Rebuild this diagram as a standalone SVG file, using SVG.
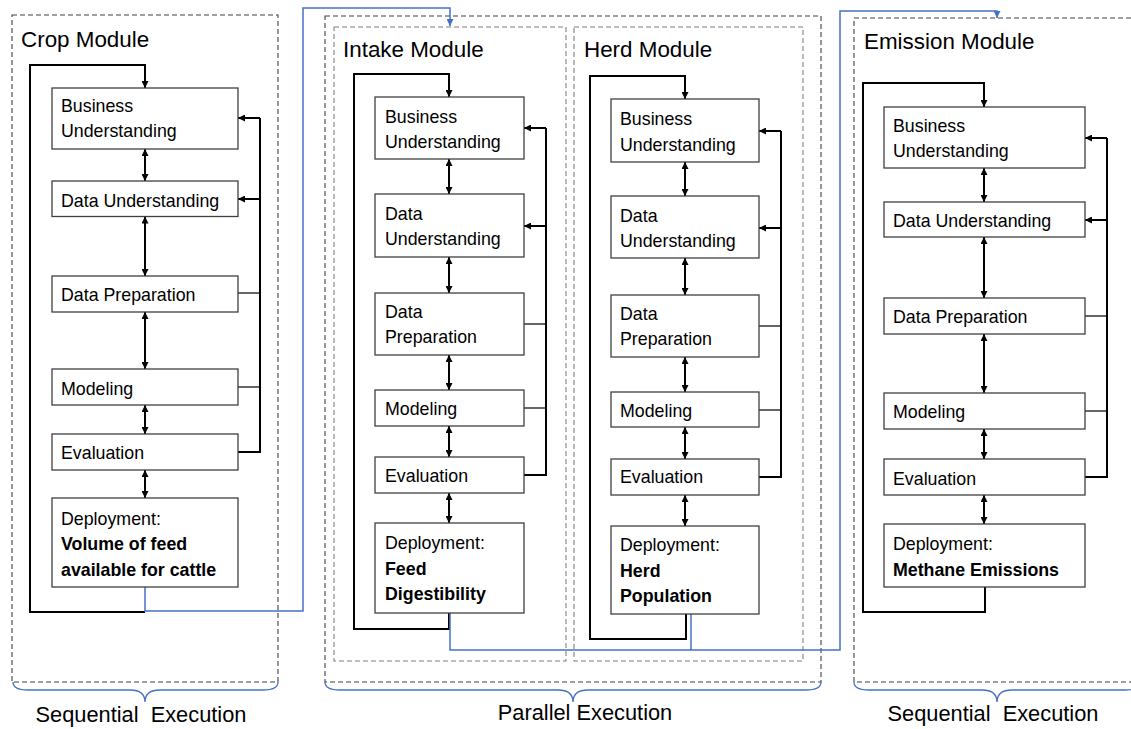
<svg xmlns="http://www.w3.org/2000/svg" width="1131" height="729" viewBox="0 0 1131 729">
<style>
.box{fill:#fff;stroke:#404040;stroke-width:1.3}
.t{font-family:"Liberation Sans",Arial,sans-serif;font-size:17.8px;fill:#000}
.b{font-weight:bold}
.title{font-family:"Liberation Sans",Arial,sans-serif;font-size:22.4px;fill:#000}
.lab{font-family:"Liberation Sans",Arial,sans-serif;font-size:21.8px;fill:#000;text-anchor:middle;white-space:pre}
.dash{fill:none;stroke:#404040;stroke-width:1.1;stroke-dasharray:5 3}
.dash2{fill:none;stroke:#7f7f7f;stroke-width:1.1;stroke-dasharray:5 3}
.loop{fill:none;stroke:#000;stroke-width:2}
.stub{fill:none;stroke:#000;stroke-width:1.2}
.dbl{fill:none;stroke:#000;stroke-width:2;marker-start:url(#ah);marker-end:url(#ah)}
.one{fill:none;stroke:#000;stroke-width:2;marker-end:url(#ah)}
.blue{fill:none;stroke:#4472C4;stroke-width:1.5}
.brace{fill:none;stroke:#4472C4;stroke-width:1.3}
</style>
<defs>
<marker id="ah" viewBox="0 0 10 10" refX="10" refY="5" markerWidth="7" markerHeight="7" markerUnits="userSpaceOnUse" orient="auto-start-reverse"><path d="M0,0 L10,5 L0,10 z" fill="#000"/></marker>
<marker id="bh" viewBox="0 0 10 10" refX="10" refY="5" markerWidth="7" markerHeight="7" markerUnits="userSpaceOnUse" orient="auto"><path d="M0,0 L10,5 L0,10 z" fill="#4472C4"/></marker>
</defs>

<g id="containers">
<rect class="dash" x="12" y="15" width="266" height="667"/>
<rect class="dash" x="325" y="16" width="496" height="666"/>
<rect class="dash2" x="334" y="27" width="232" height="634"/>
<rect class="dash2" x="574" y="27" width="229" height="634"/>
<rect class="dash" x="854" y="18" width="300" height="664"/>
<text class="title" x="21" y="47">Crop Module</text>
<text class="title" x="343" y="57">Intake Module</text>
<text class="title" x="584" y="57">Herd Module</text>
<text class="title" x="864" y="49">Emission Module</text>
</g>

<g id="connectors">
<!-- Crop -->
<path class="loop" d="M145,612 L30,612 L30,65 L145,65 L145,88" marker-end="url(#ah)"/>
<line class="dbl" x1="145" y1="149" x2="145" y2="181"/>
<line class="dbl" x1="145" y1="216.5" x2="145" y2="276"/>
<line class="dbl" x1="145" y1="312" x2="145" y2="369"/>
<line class="dbl" x1="145" y1="405" x2="145" y2="434"/>
<line class="dbl" x1="145" y1="470" x2="145" y2="498"/>
<line class="loop" x1="260" y1="118" x2="260" y2="453"/>
<line class="one" x1="260" y1="118" x2="238" y2="118"/>
<line class="one" x1="260" y1="199" x2="238" y2="199"/>
<line class="stub" x1="238" y1="293" x2="260" y2="293"/>
<line class="stub" x1="238" y1="387" x2="260" y2="387"/>
<line class="loop" x1="238" y1="452" x2="261" y2="452"/>
<!-- Intake -->
<path class="loop" d="M449,613 L449,629 L354,629 L354,74 L449,74 L449,97" marker-end="url(#ah)"/>
<line class="dbl" x1="449" y1="159" x2="449" y2="194"/>
<line class="dbl" x1="449" y1="257" x2="449" y2="293"/>
<line class="dbl" x1="449" y1="355" x2="449" y2="390"/>
<line class="dbl" x1="449" y1="426" x2="449" y2="457"/>
<line class="dbl" x1="449" y1="493" x2="449" y2="523"/>
<line class="loop" x1="546" y1="128" x2="546" y2="476"/>
<line class="one" x1="546" y1="128" x2="524" y2="128"/>
<line class="one" x1="546" y1="226" x2="524" y2="226"/>
<line class="stub" x1="524" y1="324" x2="546" y2="324"/>
<line class="stub" x1="524" y1="408" x2="546" y2="408"/>
<line class="loop" x1="524" y1="475" x2="547" y2="475"/>
<!-- Herd -->
<path class="loop" d="M686,614 L686,639 L590,639 L590,76 L685,76 L685,99" marker-end="url(#ah)"/>
<line class="dbl" x1="685" y1="162" x2="685" y2="196"/>
<line class="dbl" x1="685" y1="258" x2="685" y2="295"/>
<line class="dbl" x1="685" y1="357" x2="685" y2="392"/>
<line class="dbl" x1="685" y1="427" x2="685" y2="459"/>
<line class="dbl" x1="685" y1="495" x2="685" y2="526"/>
<line class="loop" x1="781" y1="131" x2="781" y2="478"/>
<line class="one" x1="781" y1="131" x2="759" y2="131"/>
<line class="one" x1="781" y1="228" x2="759" y2="228"/>
<line class="stub" x1="759" y1="326" x2="781" y2="326"/>
<line class="stub" x1="759" y1="410" x2="781" y2="410"/>
<line class="loop" x1="759" y1="477" x2="782" y2="477"/>
<!-- Emission -->
<path class="loop" d="M985,587 L985,612 L863,612 L863,83 L984,83 L984,107" marker-end="url(#ah)"/>
<line class="dbl" x1="984" y1="168" x2="984" y2="202"/>
<line class="dbl" x1="984" y1="237" x2="984" y2="298"/>
<line class="dbl" x1="984" y1="334" x2="984" y2="393"/>
<line class="dbl" x1="984" y1="429" x2="984" y2="459"/>
<line class="dbl" x1="984" y1="495" x2="984" y2="524"/>
<line class="loop" x1="1107" y1="138" x2="1107" y2="478"/>
<line class="one" x1="1107" y1="138" x2="1085" y2="138"/>
<line class="one" x1="1107" y1="220" x2="1085" y2="220"/>
<line class="stub" x1="1085" y1="316" x2="1107" y2="316"/>
<line class="stub" x1="1085" y1="411" x2="1107" y2="411"/>
<line class="loop" x1="1085" y1="477" x2="1108" y2="477"/>
<!-- blue inter-module -->
<path class="blue" d="M145,587 L145,611 L303,611 L303,8 L450,8 L450,26" marker-end="url(#bh)"/>
<path class="blue" d="M450,613 L450,650 L840,650 L840,11 L997,11 L997,18" marker-end="url(#bh)"/>
<path class="blue" d="M691,614 L691,650"/>
<!-- braces -->
<path class="brace" d="M13,682 Q13,690 28,690 L130,690 Q145,690 145,702 Q145,690 160,690 L263,690 Q278,690 278,682"/>
<path class="brace" d="M325,682 Q325,690 340,690 L558,690 Q573,690 573,702 Q573,690 588,690 L806,690 Q821,690 821,682"/>
<path class="brace" d="M854,682 Q854,690 869,690 L982,690 Q997,690 997,702 Q997,690 1012,690 L1125,690 Q1140,690 1140,682"/>
</g>

<g id="crop-nodes">
<g id="crop-bu"><rect class="box" x="52" y="88" width="186" height="61"/><text class="t" x="61" y="112">Business</text><text class="t" x="61" y="137">Understanding</text></g>
<g id="crop-du"><rect class="box" x="52" y="181" width="186" height="35.5"/><text class="t" x="61" y="207">Data Understanding</text></g>
<g id="crop-dp"><rect class="box" x="52" y="276" width="186" height="36"/><text class="t" x="61" y="301">Data Preparation</text></g>
<g id="crop-mod"><rect class="box" x="52" y="369" width="186" height="36"/><text class="t" x="61" y="395">Modeling</text></g>
<g id="crop-eval"><rect class="box" x="52" y="434" width="186" height="36"/><text class="t" x="61" y="459">Evaluation</text></g>
<g id="crop-dep"><rect class="box" x="52" y="498" width="186" height="89"/><text class="t" x="61" y="525">Deployment:</text><text class="t b" x="61" y="550">Volume of feed</text><text class="t b" x="61" y="576">available for cattle</text></g>
</g>

<g id="intake-nodes">
<g id="intake-bu"><rect class="box" x="375" y="97" width="149" height="62"/><text class="t" x="385" y="123">Business</text><text class="t" x="385" y="148">Understanding</text></g>
<g id="intake-du"><rect class="box" x="375" y="194" width="149" height="63"/><text class="t" x="385" y="220">Data</text><text class="t" x="385" y="245">Understanding</text></g>
<g id="intake-dp"><rect class="box" x="375" y="293" width="149" height="62"/><text class="t" x="385" y="318">Data</text><text class="t" x="385" y="343">Preparation</text></g>
<g id="intake-mod"><rect class="box" x="375" y="390" width="149" height="36"/><text class="t" x="385" y="415">Modeling</text></g>
<g id="intake-eval"><rect class="box" x="375" y="457" width="149" height="36"/><text class="t" x="385" y="482">Evaluation</text></g>
<g id="intake-dep"><rect class="box" x="375" y="523" width="149" height="90"/><text class="t" x="385" y="549">Deployment:</text><text class="t b" x="385" y="575">Feed</text><text class="t b" x="385" y="600">Digestibility</text></g>
</g>

<g id="herd-nodes">
<g id="herd-bu"><rect class="box" x="611" y="99" width="148" height="63"/><text class="t" x="620" y="125">Business</text><text class="t" x="620" y="151">Understanding</text></g>
<g id="herd-du"><rect class="box" x="611" y="196" width="148" height="62"/><text class="t" x="620" y="222">Data</text><text class="t" x="620" y="247">Understanding</text></g>
<g id="herd-dp"><rect class="box" x="611" y="295" width="148" height="62"/><text class="t" x="620" y="320">Data</text><text class="t" x="620" y="345">Preparation</text></g>
<g id="herd-mod"><rect class="box" x="611" y="392" width="148" height="35"/><text class="t" x="620" y="417">Modeling</text></g>
<g id="herd-eval"><rect class="box" x="611" y="459" width="148" height="36"/><text class="t" x="620" y="483">Evaluation</text></g>
<g id="herd-dep"><rect class="box" x="611" y="526" width="148" height="88"/><text class="t" x="620" y="551">Deployment:</text><text class="t b" x="620" y="577">Herd</text><text class="t b" x="620" y="602">Population</text></g>
</g>

<g id="emission-nodes">
<g id="em-bu"><rect class="box" x="884" y="107" width="201" height="61"/><text class="t" x="893" y="132">Business</text><text class="t" x="893" y="157">Understanding</text></g>
<g id="em-du"><rect class="box" x="884" y="202" width="201" height="35"/><text class="t" x="893" y="227">Data Understanding</text></g>
<g id="em-dp"><rect class="box" x="884" y="298" width="201" height="36"/><text class="t" x="893" y="323">Data Preparation</text></g>
<g id="em-mod"><rect class="box" x="884" y="393" width="201" height="36"/><text class="t" x="893" y="418">Modeling</text></g>
<g id="em-eval"><rect class="box" x="884" y="459" width="201" height="36"/><text class="t" x="893" y="485">Evaluation</text></g>
<g id="em-dep"><rect class="box" x="884" y="524" width="201" height="63"/><text class="t" x="893" y="550">Deployment:</text><text class="t b" x="893" y="576">Methane Emissions</text></g>
</g>

<g id="labels">
<text class="lab" x="141" y="722">Sequential  Execution</text>
<text class="lab" x="585" y="720">Parallel Execution</text>
<text class="lab" x="993" y="721">Sequential  Execution</text>
</g>
</svg>
